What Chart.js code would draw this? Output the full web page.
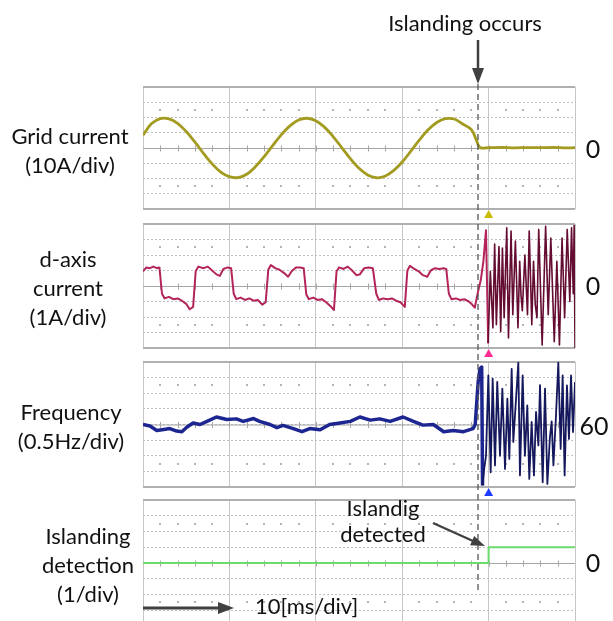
<!DOCTYPE html>
<html>
<head>
<meta charset="utf-8">
<title>Islanding detection waveforms</title>
<script src="https://cdn.jsdelivr.net/npm/chart.js"></script>
<style>
  html, body { margin: 0; padding: 0; background: #fff; }
  body { position: relative; width: 613px; height: 621px; overflow: hidden; font-family: Lato, "Open Sans", sans-serif; color: #111; }
  canvas { position: absolute; }
  .lbl { position: absolute; text-align: center; font-size: 22px; line-height: 29px; white-space: nowrap; }
  .off { position: absolute; width: 50px; text-align: center; font-size: 25px; line-height: 25px; }
  svg { position: absolute; left: 0; top: 0; }
</style>
</head>
<body>

<canvas id="p1"></canvas>
<canvas id="p2"></canvas>
<canvas id="p3"></canvas>
<canvas id="p4"></canvas>

<script>
    // time axis: 10 ms per division, 5 divisions shown
    const timeTicks = [0, 10, 20, 30, 40, 50];
    const cursorTime = 40;      // scope trigger cursor (triangle markers)

    // Grid current [A], 10 A/div
    const gridT = [0, 1, 2, 3, 4, 5, 6, 7, 8, 9, 10, 11, 12, 13, 14, 15, 16, 17, 18, 19,
        20, 21, 22, 23, 24, 25, 26, 27, 28, 29, 30, 31, 32, 33, 34, 35, 36, 37, 38, 38.6,
        39.0, 40, 41.5, 43, 44.5, 46, 47.5, 49, 50];
    const gridI = [8.5, 16, 19.3, 19.1, 16.2, 10.8, 4, -3.5, -10.4, -15.8, -18.8, -19.4, -17.2, -12.3, -5.8, 1.5, 8.6, 14.5, 18.4, 19.5,
        17.9, 13.7, 7.5, 0.3, -7, -13.3, -17.7, -19.5, -18.5, -14.8, -9.2, -2, 5.3, 11.9, 16.7, 19.2, 19, 15.7, 12, 5,
        0.3, 0.2, 0.4, 0.1, 0.3, 0.2, 0.4, 0.1, 0.2];

    // d-axis current [A], 1 A/div
    const dT = [0, 0.4, 0.8, 1.2, 1.6, 1.9, 2.2, 2.5, 3.0, 3.5, 4.0, 4.5, 5.0, 5.4, 5.8, 6.1, 6.4, 7.0, 7.5, 8.0,
        8.5, 8.9, 9.3, 9.8, 10.2, 10.5, 10.8, 11.3, 11.8, 12.3, 12.8, 13.3, 13.8, 14.2, 14.5, 14.8, 15.3, 15.8, 16.3, 16.8,
        17.2, 17.7, 18.2, 18.6, 18.9, 19.2, 19.7, 20.2, 20.7, 21.2, 21.7, 22.1, 22.4, 22.7, 23.2, 23.7, 24.2, 24.7, 25.1, 25.6,
        26.1, 26.6, 27.0, 27.3, 27.8, 28.3, 28.8, 29.3, 29.8, 30.3, 30.6, 30.9, 31.4, 31.9, 32.4, 32.9, 33.3, 33.8, 34.3, 34.8,
        35.1, 35.4, 35.7, 36.2, 36.7, 37.2, 37.7, 38.1, 38.4, 38.8, 39.1, 39.4, 39.7, 39.95,
        40.2, 40.5, 40.7, 40.9, 41.2, 41.4, 41.6, 41.8, 42.1, 42.3, 42.6, 42.8, 43.1, 43.4, 43.6, 43.75, 43.9, 44.2, 44.5, 44.7,
        45.0, 45.2, 45.4, 45.6, 45.8, 46.2, 46.6, 46.9, 47.2, 47.6, 47.9, 48.2, 48.5, 48.8, 49.1, 49.4, 49.6, 49.8, 49.9, 50.0];
    const dI = [0.95, 1.2, 1.15, 1.25, 1.15, 1.2, -0.5, -0.8, -0.7, -0.85, -0.8, -0.95, -1.15, -1.5, -1.35, 0.95, 1.25, 1.15, 1.25, 1.0,
        0.75, 0.65, 1.1, 1.2, 1.15, -0.5, -0.85, -0.75, -0.9, -0.8, -0.95, -0.9, -1.2, -1.05, 1.05, 1.35, 1.15, 1.05, 0.85, 0.6,
        0.95, 1.2, 1.2, 1.15, -0.55, -0.85, -0.75, -0.9, -0.85, -1.05, -1.3, -1.55, 0.95, 1.2, 1.1, 1.25, 1.0, 0.7, 0.75, 1.15,
        1.2, 1.15, -0.5, -0.9, -0.8, -0.85, -0.8, -0.95, -1.05, -1.35, 1.0, 1.3, 1.1, 0.95, 0.7, 0.6, 1.0, 1.15, 1.1, 1.15,
        1.1, -0.5, -0.85, -0.8, -0.9, -0.85, -1.0, -1.2, -1.4, -0.3, 0.4, 1.6, 3.6, -3.7,
        0.95, -2.7, 2.7, -2.5, 2.55, -2.95, 2.45, -2.05, 3.75, -3.35, 3.55, -1.85, 2.9, -2.7, 1.6, -0.6, -1.6, 2.0, -1.85, 3.55,
        -2.5, 1.6, -1.2, -2.05, 3.65, -3.8, 3.85, -1.85, 3.1, -3.6, 1.6, -3.8, 3.1, -2.05, 3.65, -1.0, 3.75, -0.5, 3.9, -4.0];

    // Frequency [Hz], 0.5 Hz/div around 60 Hz
    const fT = [0, 0.8, 1.6, 2.4, 3.1, 3.9, 4.5, 5.1, 5.8, 6.6, 7.4, 8.5, 9.7, 10.8, 11.6, 12.8, 13.5, 14.7, 15.5, 16.2,
        17.4, 18.4, 19.3, 20.5, 21.6, 22.8, 24.0, 25.1, 26.3, 27.4, 28.6, 30.1, 31.3, 32.4, 33.6, 34.8, 35.9, 37.1, 38.2, 38.45,
        38.8, 39.0, 39.2, 39.3, 39.5, 39.7, 39.97, 40.24, 40.47, 40.74, 41.0, 41.32, 41.59, 41.9, 42.17, 42.4, 42.67, 42.86, 43.44, 43.63,
        43.94, 44.2, 44.48, 44.71, 44.98, 45.25, 45.49, 45.76, 45.95, 46.26, 46.53, 46.8, 47.1, 47.3, 47.5, 47.8, 48.07, 48.34, 48.57, 48.8,
        49.07, 49.3, 49.54, 49.77, 50.0];
    const fHz = [60.0, 59.95, 59.81, 59.84, 59.87, 59.79, 59.77, 59.92, 60.05, 60.0, 60.1, 60.24, 60.16, 60.18, 60.1, 60.19, 60.1, 60.0, 59.9, 59.97,
        59.87, 59.77, 59.87, 59.83, 60.0, 60.05, 60.1, 60.24, 60.14, 60.18, 60.1, 60.24, 60.1, 59.98, 60.0, 59.77, 59.81, 59.77, 59.87, 60.0,
        61.39, 61.78, 61.84, 58.05, 58.6, 59.0, 61.57, 58.47, 61.47, 58.69, 61.36, 59.0, 61.15, 58.58, 60.83, 58.9, 61.78, 59.44, 61.98, 58.37,
        61.57, 59.0, 60.61, 58.26, 60.08, 58.37, 60.4, 59.33, 61.25, 58.15, 61.15, 58.1, 59.6, 60.1, 58.69, 60.29, 61.98, 59.22, 61.57, 58.37,
        61.25, 59.54, 61.57, 59.76, 61.36];

    // Islanding detection flag, 1/div
    const detT = [0, 40, 40, 50];
    const detV = [0, 0, 1, 1];

    const offsetLabels = ['0', '0', '60', '0'];

    const PAD = 10;
    const LEFT = 143, WIDTH = 432;

    const scopeFrame = {
        id: 'scopeFrame',
        beforeDatasetsDraw(chart) {
            const {ctx, chartArea: a, scales: {x}} = chart;
            const mid = (a.top + a.bottom) / 2;
            const div = (a.bottom - a.top) / 8;
            ctx.save();
            // centre line with 2 ms ticks
            ctx.strokeStyle = '#a6a6a6';
            ctx.lineWidth = 1;
            ctx.beginPath();
            ctx.moveTo(a.left, mid + 0.5);
            ctx.lineTo(a.right, mid + 0.5);
            for (let t = 2; t < 50; t += 2) {
                const px = Math.round(x.getPixelForValue(t)) + 0.5;
                ctx.moveTo(px, mid - 2.5);
                ctx.lineTo(px, mid + 3.5);
            }
            ctx.stroke();
            // dotted rows at +-2.5 div
            ctx.fillStyle = '#b4b4b4';
            [mid - 2.5 * div, mid + 2.5 * div].forEach(yy => {
                for (let t = 2; t < 50; t += 2) {
                    if (t % 10) ctx.fillRect(Math.round(x.getPixelForValue(t)) - 1, Math.round(yy) - 1, 2, 2);
                }
            });
            // top / bottom frame
            ctx.strokeStyle = '#b0b0b0';
            ctx.lineWidth = 2;
            ctx.beginPath();
            ctx.moveTo(a.left, a.top);
            ctx.lineTo(a.right, a.top);
            ctx.moveTo(a.left, a.bottom);
            ctx.lineTo(a.right, a.bottom);
            ctx.stroke();
            ctx.restore();
        },
        afterDraw(chart, args, opts) {
            if (!opts.marker) return;
            const {ctx, chartArea: a, scales: {x}} = chart;
            const px = x.getPixelForValue(cursorTime);
            ctx.save();
            ctx.fillStyle = opts.marker;
            ctx.beginPath();
            ctx.moveTo(px, a.bottom + 1);
            ctx.lineTo(px - 4.5, a.bottom + 9);
            ctx.lineTo(px + 4.5, a.bottom + 9);
            ctx.closePath();
            ctx.fill();
            ctx.restore();
        }
    };

    const panels = [
        { id: 'p1', top: 87, h: 122, t: gridT, v: gridI, min: -40, max: 40, step: 10,
          color: '#a39b1f', width: 2.8, tension: 0.4, marker: '#c9bb00' },
        { id: 'p2', top: 224, h: 124, t: dT, v: dI, min: -4, max: 4, step: 1,
          color: '#b3245a', width: 2, noiseFrom: 39.9, noiseColor: '#640c32', noiseWidth: 1.6, marker: '#ff2d92' },
        { id: 'p3', top: 362, h: 125, t: fT, v: fHz, min: 58, max: 62, step: 0.5,
          color: '#1d2590', width: 3.5, noiseFrom: 39.25, noiseColor: '#15185c', noiseWidth: 1.8, marker: '#1e3cff' },
        { id: 'p4', top: 500, h: 126, t: detT, v: detV, min: -4, max: 4, step: 1,
          color: '#6bdb6b', width: 2 }
    ];

    panels.forEach(p => {
        const cv = document.getElementById(p.id);
        cv.width = WIDTH + 2 * PAD;
        cv.height = p.h + 2 * PAD;
        cv.style.left = (LEFT - PAD) + 'px';
        cv.style.top = (p.top - PAD) + 'px';

        const segment = {};
        if (p.noiseFrom !== undefined) {
            segment.borderColor = c => c.p0.parsed.x >= p.noiseFrom ? p.noiseColor : undefined;
            segment.borderWidth = c => c.p0.parsed.x >= p.noiseFrom ? p.noiseWidth : undefined;
        }

        new Chart(cv, {
            type: 'line',
            data: {
                datasets: [{
                    data: p.t.map((t, i) => ({ x: t, y: p.v[i] })),
                    borderColor: p.color,
                    borderWidth: p.width,
                    pointRadius: 0,
                    tension: p.tension || 0,
                    borderJoinStyle: 'round',
                    segment: segment
                }]
            },
            options: {
                responsive: false,
                animation: false,
                events: [],
                layout: { padding: PAD },
                plugins: {
                    legend: { display: false },
                    tooltip: { enabled: false },
                    scopeFrame: { marker: p.marker }
                },
                scales: {
                    x: {
                        type: 'linear',
                        min: timeTicks[0],
                        max: timeTicks[timeTicks.length - 1],
                        afterBuildTicks: s => { s.ticks = timeTicks.map(v => ({ value: v })); },
                        ticks: { display: false },
                        grid: { color: '#c6c6c6', drawTicks: false },
                        border: { display: false }
                    },
                    y: {
                        min: p.min,
                        max: p.max,
                        ticks: { display: false, stepSize: p.step },
                        grid: { color: '#c0c0c0', drawTicks: false },
                        border: { display: false, dash: [2, 2] }
                    }
                }
            },
            plugins: [scopeFrame]
        });
    });
</script>

<!-- annotations -->
<svg width="613" height="621">
    <line x1="478" y1="84" x2="478" y2="592" stroke="#555" stroke-width="1.3" stroke-dasharray="6,4"/>
    <line x1="478" y1="40" x2="478" y2="70" stroke="#404040" stroke-width="2.5"/>
    <polygon points="472,68 484,68 478,84" fill="#404040"/>
    <line x1="433" y1="523" x2="473" y2="541" stroke="#404040" stroke-width="2.2"/>
    <polygon points="470.1,545.2 474.2,536.1 485,546" fill="#404040"/>
    <line x1="143" y1="608" x2="220" y2="608" stroke="#404040" stroke-width="3"/>
    <polygon points="218,602 234,608 218,614" fill="#404040"/>
</svg>

<div class="lbl" style="left:365px; width:200px; top:8px;">Islanding occurs</div>

<div class="lbl" style="left:0; width:140px; top:121px;">Grid current<br>(10A/div)</div>
<div class="lbl" style="left:0; width:136px; top:244px;">d-axis<br>current<br>(1A/div)</div>
<div class="lbl" style="left:0; width:142px; top:397px;">Frequency<br>(0.5Hz/div)</div>
<div class="lbl" style="left:18px; width:140px; top:521px;">Islanding<br>detection<br>(1/div)</div>

<div class="lbl" style="left:283px; width:200px; top:495px; line-height:26px;">Islandig<br>detected</div>
<div class="lbl" style="left:255px; width:120px; top:591px; text-align:left;">10[ms/div]</div>

<div class="off" id="o1" style="left:568px; top:136px;"></div>
<div class="off" id="o2" style="left:568px; top:273px;"></div>
<div class="off" id="o3" style="left:569px; top:413px;"></div>
<div class="off" id="o4" style="left:568px; top:550px;"></div>
<script>
    offsetLabels.forEach((s, i) => { document.getElementById('o' + (i + 1)).textContent = s; });
</script>
</body>
</html>
